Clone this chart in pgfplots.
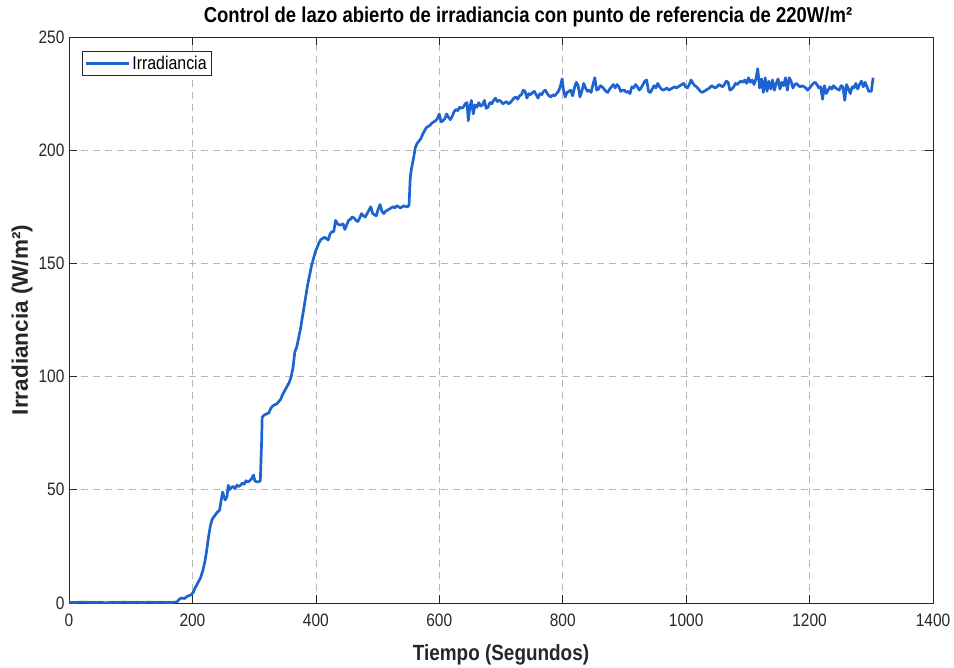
\documentclass[border=0pt]{standalone}
\usepackage{fontspec}
\setmainfont{Liberation Sans}[FakeStretch=0.86]
\newfontfamily\plainsans{Liberation Sans}
\usepackage{pgfplots}
\pgfplotsset{compat=1.18}
\usetikzlibrary{calc}
\definecolor{irrblue}{RGB}{30,100,208}
\definecolor{axgray}{RGB}{38,38,38}

\begin{document}
\begin{tikzpicture}
\begin{axis}[
    scale only axis,
    width=864pt, height=566pt,
    xmin=0, xmax=1400, ymin=0, ymax=250,
    xtick={0,200,...,1400}, ytick={0,50,...,250},
    /pgf/number format/assume math mode=true,
    /pgf/number format/1000 sep={},
    ticklabel style={font=\fontsize{18}{20}\selectfont, text=axgray},
    xticklabel style={yshift=-7pt},
    yticklabel style={xshift=-1pt},
    tick align=inside, major tick length=8pt,
    tick style={axgray, line width=0.6pt},
    axis line style={axgray, line width=0.8pt},
    grid=major,
    major grid style={dash pattern=on 7pt off 5pt, gray!55, line width=0.6pt},
    title={\bfseries Control de lazo abierto de irradiancia con punto de referencia de 220W/m²},
    title style={font=\fontsize{21.5}{24}\selectfont,
        at={($(rel axis cs:0.5,1)+(27pt,14pt)$)}, anchor=center},
    xlabel={\bfseries Tiempo (Segundos)},
    xlabel style={font=\fontsize{22}{25}\selectfont, text=axgray,
        at={($(rel axis cs:0.5,0)+(0,-52pt)$)}, anchor=center},
    ylabel={\bfseries Irradiancia (W/m²)},
    ylabel style={font=\plainsans\fontsize{22.5}{25}\selectfont, text=axgray,
        at={($(rel axis cs:0,0.5)+(-47pt,0)$)}, anchor=center},
    legend style={at={(0.015,0.975)}, anchor=north west, draw=axgray,
        font=\fontsize{18.5}{21}\selectfont, inner sep=2.5pt, row sep=0pt,
        cells={anchor=west}},
    legend image code/.code={\draw[#1] (0pt,0pt) -- (43pt,0pt);},
]
\addplot[irrblue, line width=2.7pt, line join=round] coordinates {
(0,0.3) (10,0.2) (20,0.4) (30,0.3) (40,0.2) (50,0.3) (60,0.1) (70,0.3) (80,0.2) (90,0.4)
(100,0.2) (110,0.3) (120,0.2) (130,0.4) (140,0.2) (150,0.3) (160,0.2) (170,0.3) (175,0.5)
(178,1.5) (182,2.2) (187,2.0) (192,3.0) (197,3.5) (201,4.5) (205,7) (209,9) (213,11)
(217,14.5) (220,18) (223,23) (226,29) (229,34) (232,37) (236,38.5) (240,40) (244,41)
(247,46) (249,49) (251,47) (253,45.5) (256,47) (258,52) (260,50) (263,51) (266,51.5)
(269,50.5) (272,52) (275,51.5) (278,52) (281,53) (284,52.5) (287,54) (290,53.5) (293,54)
(296,55) (299,56.5) (301,54) (304,53.5) (307,53.5) (310,54) (312,70) (313,82) (316,83)
(320,83.5) (324,84) (327,86) (330,87) (333,87.5) (337,88) (340,89) (343,90) (346,92)
(350,94) (353,95.5) (357,97.5) (360,100) (363,104) (366,111) (369,113) (372,117)
(375,121) (378,126) (381,131) (384,136) (387,141) (390,145) (393,149) (396,152)
(399,155) (402,157) (405,159) (408,160.5) (411,161) (414,161.5) (417,161) (420,160.3)
(423,163) (426,164) (429,164) (432,169) (435,167.5) (438,167) (441,167) (444,167.5)
(447,165) (450,167) (453,169) (456,169.5) (459,170.5) (462,170) (465,169) (468,168.5)
(471,170) (474,172) (477,171) (480,170.5) (483,172) (486,173.5) (489,175) (492,172)
(495,171.5) (498,171) (501,174) (504,176) (507,173) (510,172) (513,173) (516,173.5)
(519,174) (522,174.5) (525,175) (528,174.5) (531,175.5) (534,175) (537,174.5) (540,175)
(543,175.5) (546,175) (549,175) (551,176) (553,188) (555,192) (558,196) (561,201)
(564,203) (567,204) (570,205) (573,207) (576,208.5) (579,210) (582,210.5) (585,211)
(588,212) (591,212.5) (594,213) (597,214) (600,216) (603,212.5) (606,213) (609,214)
(612,216) (615,214.5) (618,213.5) (621,215) (624,217) (627,218) (630,217.5) (633,219)
(636,218.5) (639,219) (642,220.5) (645,221) (647,213) (649,218) (652,222) (655,216)
(658,220) (661,219) (664,221) (667,219.5) (670,220) (673,222) (676,218.5) (679,219)
(682,221) (685,220.5) (688,222) (691,223) (694,221.5) (697,222) (700,221.5) (703,220.5)
(706,221) (709,221.5) (712,220.5) (715,221) (718,222) (721,223) (724,223.5) (727,222.5)
(730,224) (733,224.5) (736,226.5) (739,226) (742,223) (745,225) (748,224.5) (751,225.5)
(754,226) (757,224.5) (760,223) (763,225) (766,224.5) (769,226) (772,226.5) (775,225)
(778,224) (781,223.5) (784,224.5) (787,224) (790,225) (793,226) (796,228) (799,231.5)
(801,227) (804,223.5) (807,225.5) (810,226) (813,226.5) (816,224) (819,227.5) (822,230)
(825,228.5) (828,223.5) (831,226) (834,229.5) (837,227.5) (840,226) (843,226.5)
(846,225.5) (849,229) (852,232) (855,226.5) (858,227) (861,228.5) (864,228) (867,227)
(870,226) (873,225.5) (876,227) (879,228) (882,229) (885,227.5) (888,229) (891,228)
(894,226) (897,226.5) (900,226.5) (903,225.5) (906,226) (909,225) (912,228) (915,227.5)
(918,229) (921,228) (924,226.5) (927,227.5) (930,229) (933,230.5) (936,231) (939,226)
(942,225.5) (945,227) (948,228.5) (951,227.5) (954,229.5) (957,228) (960,227)
(963,226.5) (966,227) (969,227.5) (972,226.5) (975,227) (978,227.5) (981,228)
(984,227.5) (987,228) (990,228.5) (993,229) (996,229.5) (999,228) (1002,227.5)
(1005,229) (1008,231) (1011,229.5) (1014,228.5) (1017,228) (1020,227) (1023,226)
(1026,225.5) (1029,226) (1032,226.5) (1035,227) (1038,227.5) (1041,228.5) (1044,228)
(1047,227.5) (1050,228) (1053,229) (1056,228.5) (1059,228) (1062,229) (1065,230.5)
(1068,230) (1071,226.5) (1074,227) (1077,228) (1080,229.5) (1083,229) (1086,230)
(1089,230.5) (1092,230) (1095,231) (1098,229.5) (1101,232) (1104,230) (1107,231)
(1110,229) (1113,231.5) (1116,236) (1119,227.5) (1122,231.5) (1125,225.5) (1128,232)
(1131,226) (1134,230.5) (1137,227) (1140,231) (1143,226.5) (1146,229.5) (1149,231.5)
(1152,227) (1155,230) (1158,228.5) (1161,232) (1164,226.5) (1167,232) (1170,230.5)
(1173,227.5) (1176,229) (1179,229.5) (1182,228.5) (1185,228) (1188,228.5) (1191,228)
(1194,227.5) (1197,226.5) (1200,227.5) (1203,228.5) (1206,229.5) (1209,230) (1212,229)
(1215,227.5) (1218,228) (1221,222.5) (1224,228.5) (1227,225) (1230,226.5) (1233,228)
(1236,227) (1239,228.5) (1242,227.5) (1245,227) (1248,226.5) (1251,228.5) (1254,228)
(1257,222) (1260,229) (1263,227) (1266,225) (1269,228) (1272,227.5) (1275,229.5)
(1278,227) (1281,229) (1284,230.5) (1287,228) (1290,230) (1293,228) (1296,226)
(1300,226) (1303,232)
};
\addlegendentry{Irradiancia}
\end{axis}
\pgfresetboundingbox
\path ($(current axis.south west)+(-69pt,-65pt)$) rectangle ($(current axis.north east)+(21pt,37pt)$);
\end{tikzpicture}
\end{document}
